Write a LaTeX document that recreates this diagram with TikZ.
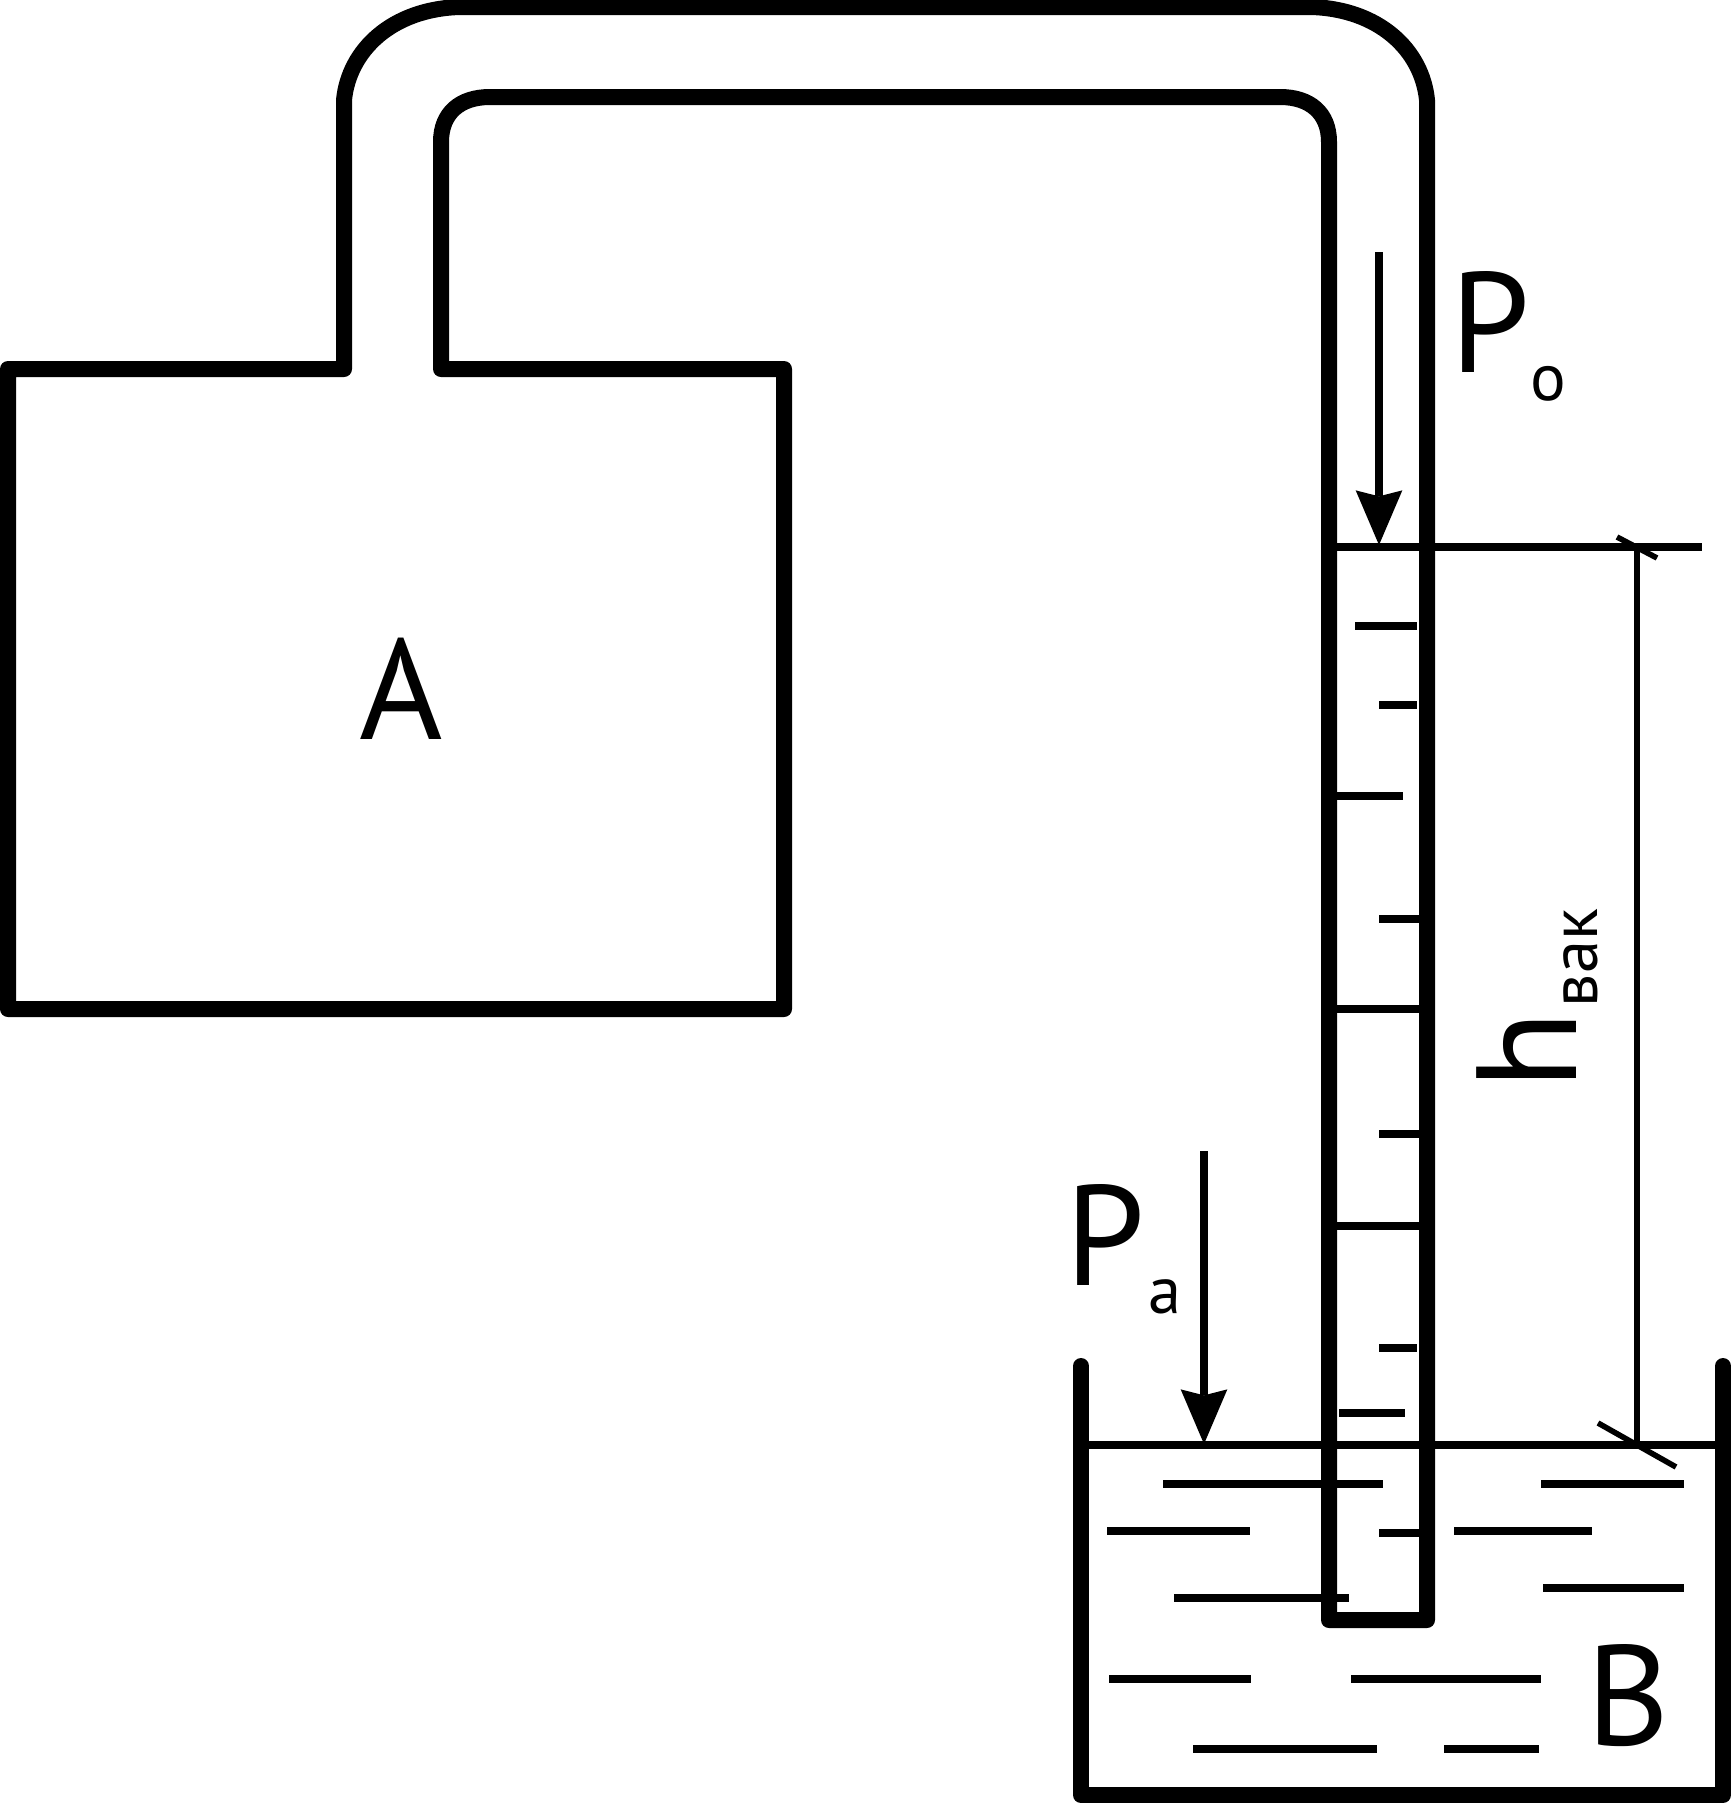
\documentclass[tikz,border=0pt]{standalone}
\usepackage{fontspec}
\usetikzlibrary{arrows.meta}
\setmainfont{PT Sans}

\tikzset{every picture/.style={line width=0.75pt}}
\tikzset{
  wall/.style={line width=12pt,line join=round,line cap=round},
  level/.style={line width=5.4pt},
  hatch/.style={line width=6.2pt},
  thinline/.style={line width=4.2pt},
  pressurearrow/.style={line width=5.8pt,-{Stealth[length=41pt,width=35pt,inset=4.5pt,line width=0pt]}},
  biglabel/.style={inner sep=0pt,font=\fontsize{107}{112}\selectfont},
  smalllabel/.style={inner sep=0pt,font=\fontsize{50}{54}\selectfont}
}

\begin{document}
\begin{tikzpicture}[x=0.75pt,y=0.75pt,yscale=-1]
\useasboundingbox (0,0) rectangle (1731,1803);

%Shape: Tank A with the tube
\draw [wall] (1329,1620) -- (1329,142) .. controls (1329,113) and (1310,97) .. (1280,97) -- (490,97) .. controls (460,97) and (441,113) .. (441,142) -- (441,369) -- (784,369) -- (784,1009) -- (8,1009) -- (8,369) -- (344,369) -- (344,100) .. controls (349,50) and (392,9) .. (460,7) -- (1311,7) .. controls (1379,9) and (1422,50) .. (1427,100) -- (1427,1620) -- cycle ;
%Shape: Vessel B
\draw [wall] (1081,1366) -- (1081,1795) -- (1723,1795) -- (1723,1366) ;

%Straight Lines: levels
\draw [level] (1329,547) -- (1702,547) ;
\draw [level] (1081,1445) -- (1723,1445) ;

%Straight Lines: scale on the tube
\draw [hatch] (1355,626) -- (1417,626) ;
\draw [hatch] (1379,705) -- (1417,705) ;
\draw [hatch] (1336,796) -- (1403,796) ;
\draw [hatch] (1379,919) -- (1419,919) ;
\draw [hatch] (1336,1009) -- (1419,1009) ;
\draw [hatch] (1379,1134) -- (1419,1134) ;
\draw [hatch] (1336,1226) -- (1419,1226) ;
\draw [hatch] (1379,1348) -- (1417,1348) ;
\draw [hatch] (1339,1413) -- (1405,1413) ;
\draw [hatch] (1379,1533) -- (1419,1533) ;

%Straight Lines: liquid
\draw [hatch] (1163,1484) -- (1383,1484) ;
\draw [hatch] (1541,1484) -- (1684,1484) ;
\draw [hatch] (1107,1531) -- (1250,1531) ;
\draw [hatch] (1454,1531) -- (1592,1531) ;
\draw [hatch] (1543,1588) -- (1684,1588) ;
\draw [hatch] (1174,1598) -- (1349,1598) ;
\draw [hatch] (1109,1679) -- (1251,1679) ;
\draw [hatch] (1351,1679) -- (1541,1679) ;
\draw [hatch] (1193,1749) -- (1377,1749) ;
\draw [hatch] (1444,1749) -- (1539,1749) ;

%Straight Lines: pressure arrows
\coordinate (poTop) at (1379,252);
\coordinate (poTip) at (1379,545);
\coordinate (paTop) at (1204,1151);
\coordinate (paTip) at (1204,1444);
\draw [pressurearrow] (poTop) -- (poTip) ;
\draw [pressurearrow] (paTop) -- (paTip) ;

%Straight Lines: dimension
\coordinate (dimTop) at (1637,547);
\coordinate (dimBottom) at (1637,1445);
\draw [thinline] (dimTop) -- (dimBottom) ;
\draw [thinline] (1617,537) -- (1657,558) ;
\draw [thinline] (1598,1423) -- (1676,1467) ;

% Text Node
\node [biglabel] (labelA) at (401,689) {A};
% Text Node
\node [biglabel] (labelB) at (1628,1696) {B};
% Text Node
\node [biglabel] (labelPo) at (1490,322) {P};
% Text Node
\node [smalllabel] (labelPoSub) at (1548,384) {o};
% Text Node
\node [biglabel] (labelPa) at (1105,1235) {P};
% Text Node
\node [smalllabel] (labelPaSub) at (1165,1297) {a};
% Text Node
\node [biglabel,rotate=90] (labelH) at (1527,1050) {h};
% Text Node
\node [smalllabel,rotate=90] (labelHSub) at (1581,958) {вак};
\end{tikzpicture}
\end{document}
